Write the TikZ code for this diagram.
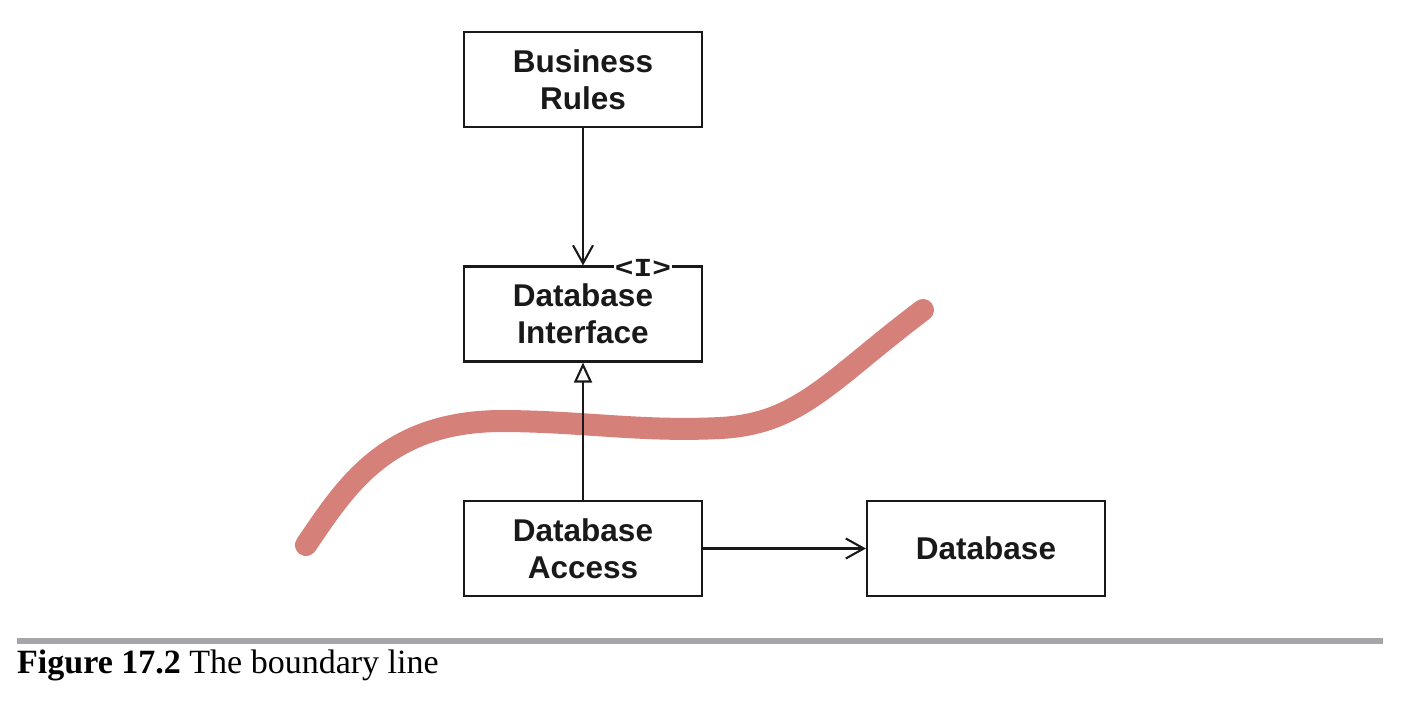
\documentclass[tikz,border=0pt]{standalone}
\usepackage{fontspec}
\setmainfont{Liberation Serif}
\newfontfamily\boxfont{Liberation Sans}
\newfontfamily\monofont{Liberation Mono}
\usetikzlibrary{arrows.meta}
\definecolor{boundary}{RGB}{214,128,122}
\definecolor{ink}{RGB}{25,25,25}
\definecolor{barg}{RGB}{166,166,170}
\tikzset{
  compbox/.style={draw=ink, line width=2.1pt, minimum width=238pt, minimum height=95pt,
    inner sep=0pt, align=center, text=ink, font=\boxfont\bfseries\fontsize{31.5}{37}\selectfont},
  conn/.style={draw=ink, line width=2.1pt},
  barb/.style={-{Straight Barb[length=18pt,width=20pt,line width=2.1pt]}},
  inherit/.style={-{Triangle[open,length=20pt,width=18pt,line width=2.1pt]}}
}
\begin{document}
\begin{tikzpicture}[x=1pt,y=-1pt]
\useasboundingbox (0,0) rectangle (1404,702);
% boundary line
\draw[boundary, line width=22pt, line cap=round]
  (306,545) .. controls (345,488) and (385,422) .. (500,421)
  .. controls (580,421) and (640,432) .. (720,428)
  .. controls (800,424) and (830,380) .. (923,310);
% boxes
\node[compbox] (br) at (583,79.5) {Business\\Rules};
\node[compbox] (di) at (583,314) {Database\\Interface};
\node[compbox] (da) at (583,548.5) {Database\\Access};
\node[compbox] (db) at (986,548.5) {Database};
\node[fill=white, inner sep=1pt, text=ink, font=\monofont\bfseries\fontsize{26}{26}\selectfont] (itag) at (643,267.5)
  {\scalebox{1.2}[1]{<I>}};
% connectors
\draw[conn, barb] (br) -- (di);
\draw[conn, inherit] (da) -- (di);
\draw[conn, barb] (da) -- (db);
% caption
\fill[barg] (17,638) rectangle (1383,644);
\node[anchor=base west, inner sep=0pt, font=\fontsize{34}{40}\selectfont] (cap) at (17,673)
  {\textbf{Figure 17.2} The boundary line};
\end{tikzpicture}
\end{document}
